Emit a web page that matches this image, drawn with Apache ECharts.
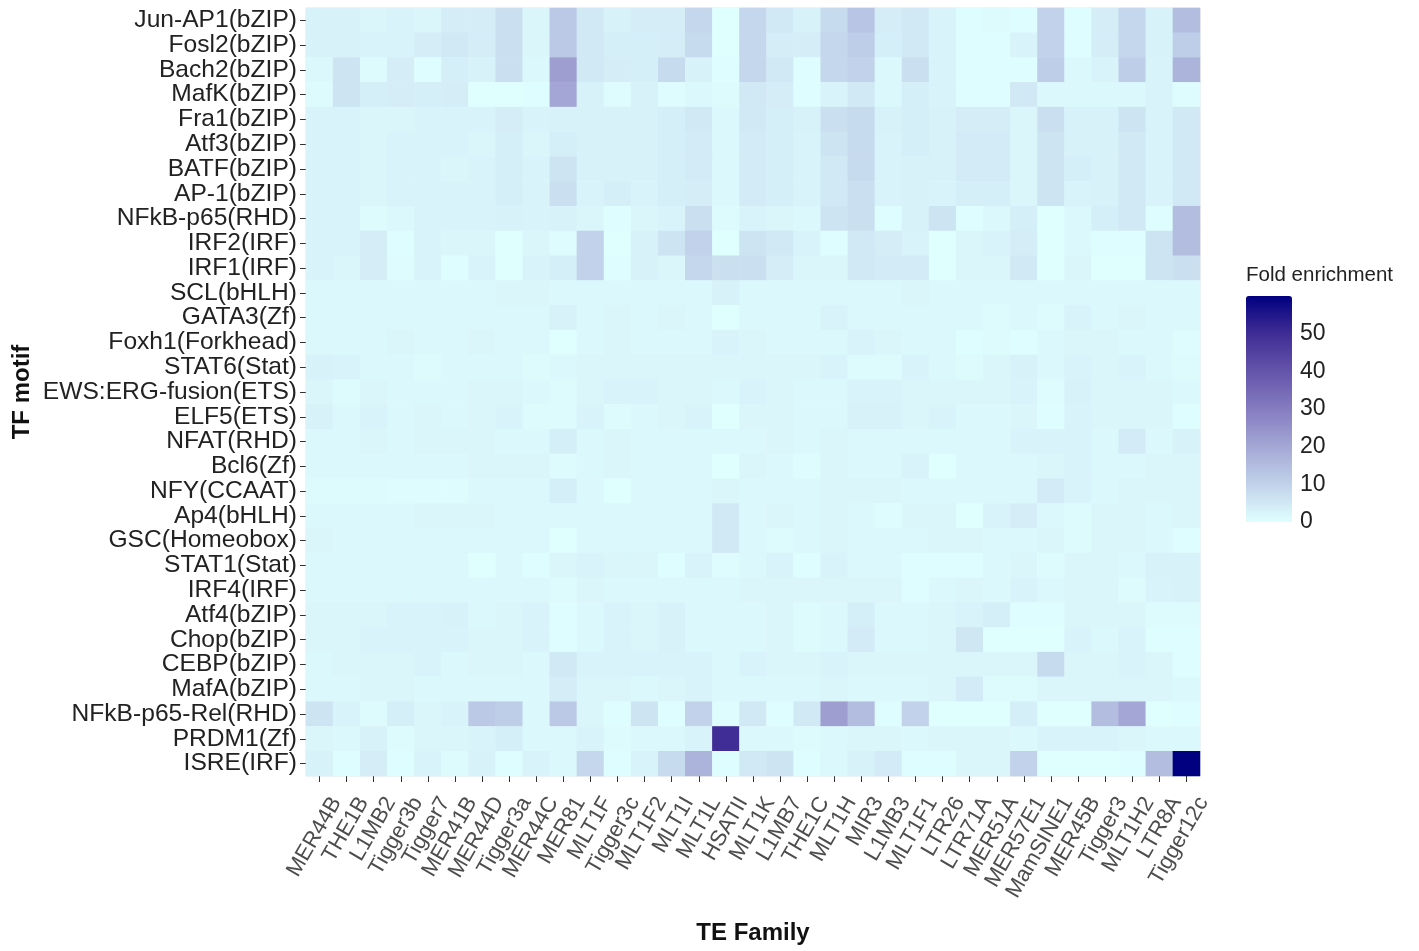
<!DOCTYPE html>
<html>
<head>
<meta charset="utf-8">
<script src="https://cdn.jsdelivr.net/npm/echarts/dist/echarts.min.js"></script>
<style>
  html, body { margin: 0; padding: 0; background: #fff; }
  #chart { width: 1419px; height: 951px; }
</style>
</head>
<body>
<div id="chart"></div>
<script>
// TE families (x) and TF motifs (y, top to bottom)
const teFamilies = ['MER44B', 'THE1B', 'L1MB2', 'Tigger3b', 'Tigger7', 'MER41B', 'MER44D', 'Tigger3a',
  'MER44C', 'MER81', 'MLT1F', 'Tigger3c', 'MLT1F2', 'MLT1I', 'MLT1L', 'HSATII', 'MLT1K', 'L1MB7',
  'THE1C', 'MLT1H', 'MIR3', 'L1MB3', 'MLT1F1', 'LTR26', 'LTR71A', 'MER51A', 'MER57E1', 'MamSINE1',
  'MER45B', 'Tigger3', 'MLT1H2', 'LTR8A', 'Tigger12c'];
const tfMotifs = ['Jun-AP1(bZIP)', 'Fosl2(bZIP)', 'Bach2(bZIP)', 'MafK(bZIP)', 'Fra1(bZIP)', 'Atf3(bZIP)',
  'BATF(bZIP)', 'AP-1(bZIP)', 'NFkB-p65(RHD)', 'IRF2(IRF)', 'IRF1(IRF)', 'SCL(bHLH)', 'GATA3(Zf)',
  'Foxh1(Forkhead)', 'STAT6(Stat)', 'EWS:ERG-fusion(ETS)', 'ELF5(ETS)', 'NFAT(RHD)', 'Bcl6(Zf)',
  'NFY(CCAAT)', 'Ap4(bHLH)', 'GSC(Homeobox)', 'STAT1(Stat)', 'IRF4(IRF)', 'Atf4(bZIP)', 'Chop(bZIP)',
  'CEBP(bZIP)', 'MafA(bZIP)', 'NFkB-p65-Rel(RHD)', 'PRDM1(Zf)', 'ISRE(IRF)'];

// fold enrichment, one array per motif, in teFamilies order
const junAP1 = [3,3,2,2.5,2,4,4,7,2,12,5,3,4,4,9,0.3,9, 5,3,8,13,4,5,2.5,0.5,1,0.5,10,0.5,4,9,3,15];
const fosl2 = [3,3,2.5,2.5,4,5,4,7,2,12,5,3.5,3.5,4,8,0.3,9, 4,4,9,11,3.5,5,2.5,0.5,0.5,2.5,10,0.5,4,9,3,11];
const bach2 = [1.5,6,1,4,0.5,3.5,3,7,1.5,22,5,4,3.5,8,3,0.5,9, 5,0.5,9,10,1.5,7,2.5,0.5,0.5,0.5,11,1.5,2.5,11,2.5,17];
const mafK = [1,6,3.5,4,3.5,4,0.3,0.3,0.5,20,3,0.8,3,0.8,1.5,1,5, 4,0.5,2.5,5,1.5,3.5,2.5,0.5,0.5,5,1.5,1.5,1.5,1.5,2.5,0.8];
const fra1 = [2.5,2.5,2,2,2.5,2.5,2.5,4,2.5,3,3,3,3,3.5,5,1.5,5, 3.5,3,7,8,3,3.5,3,4,4,2,7,3,3,6,2.5,5];
const atf3 = [2.5,2.5,2,2.5,2.5,2.5,2,3.5,2,3.5,3,3,3,3.5,4.5,1.5,4.5, 3.5,2.5,6,8,2.5,3.5,3,4.5,4.5,2,6,3,3,5,2.5,5];
const batf = [2.5,2.5,2,2.5,2.5,2,2.5,3.5,2.5,6,3,3,3,3.5,4.5,1.5,4.5, 3.5,2.5,5,8,2.5,3,3,4.5,4.5,2,6,3.5,3,5,2.5,5];
const ap1 = [2.5,2.5,2,2.5,2.5,2.5,2.5,3.5,2.5,7,2.5,3.5,2.5,3.5,4,1.5,4.5, 3.5,2.5,5,7,2.5,3,2.5,3.5,3.5,2,6,2.5,3,5,2.5,5];
const nfkbP65 = [2.5,2.5,1,1.5,2.5,2.5,2.5,3,2.5,3,2,0.5,2,2.5,7,1,2.5, 2,1.5,6,7,0.5,3,6,0.5,1.5,3.5,0.3,1.5,3.5,5,0.5,15];
const irf2 = [2.5,2.5,4,0.5,2.5,2,2,0.3,2,0.8,10,0.3,3,6,10,0.3,6, 5,2.5,0.5,5,4,2.5,0.3,2,2.5,4,0.3,1.5,0.5,0.5,6,15];
const irf1 = [2.5,2,4,0.8,2.5,0.5,2.5,0.3,2.5,3.5,10,0.5,3,2,9,7,7, 4,2,2,5,4.5,4.5,0.3,2,2,5,0.3,2,0.3,0.3,6,7];
const scl = [1.5,1.5,1.5,1.5,1.5,1.5,1.5,2,2,1.5,1.5,1.5,1.5,1.5,1.5,3,1.5, 1.5,1.5,1.5,1.5,1.5,2,1.5,1.5,1.5,1.5,1.5,1.5,1.5,1.5,1.5,1.5];
const gata3 = [1.5,1.5,1.5,1.5,1.5,1.5,1.5,1.5,1.5,3,1.5,2,1.5,2,1.5,0.3,1.5, 1.5,1.5,2.5,1.5,1.5,1.5,1.5,1.5,1,1.5,1,2.5,1.5,2,1.5,1.5];
const foxh1 = [1.5,1.5,1.5,2,1.5,1.5,2,1.5,1.5,0.3,1.5,2,1.5,1.5,1.5,2.5,2, 1.5,1.5,1.5,2.5,2,1.5,1.5,0.5,1,0.5,1.5,2,2,1.5,1.5,0.8];
const stat6 = [3,2.5,1.5,1.5,1,1.5,1.5,1.5,1,1.5,2,2,2,2,2,2,2, 2,2,2.5,1,1,2.5,1.5,1,2,3,1.5,2.5,2,2.5,1.5,1];
const ewsErg = [2,1,2,1.5,1.5,1.5,2,2,1.5,1,2,2.5,2.5,2,2,1.5,2.5, 2,1.5,1.5,2.5,2.5,2,2,2,2,2.5,0.8,3,2,2,2,1.5];
const elf5 = [3,1.5,2.5,1.5,2,1.5,2,2.5,1,1,2.5,1,1.5,2,2.5,0.3,2, 2,1.5,1.5,3,3,2,2.5,1.5,1.5,2,0.5,2.5,2,2,2,0.5];
const nfat = [1.5,1.5,2,1.5,2,2,2,1.5,1.5,3.5,1.5,2,1.5,1.5,1.5,1.5,1.5, 2,1.5,2,1.5,1.5,1.5,1.5,1.5,1.5,2.5,2.5,2.5,1.5,4.5,1.5,3];
const bcl6 = [1.5,1.5,1.5,1.5,1.5,1.5,2,2,2,1,1.5,2,1.5,1.5,1.5,0.3,2, 1.5,0.8,2,1.5,1.5,2.5,0.3,1.5,1.5,1.5,2,2.5,1.5,1.5,2,2];
const nfy = [1,1,1,0.8,0.8,0.8,1.5,1.5,1.5,3.5,1.5,0.3,1.5,1.5,1.5,2,1.5, 1.5,1.5,2,2,2,1.5,1.5,1.5,1.5,1.5,4.5,2.5,1.5,2,2,2];
const ap4 = [1.5,1.5,1.5,1.5,2,2,2,1.5,1.5,1.5,1.5,1.5,1.5,1.5,1.5,5,1.5, 2,1.5,2,1.5,0.8,2,2,0.3,2.5,4,1.5,1,2,2,1.5,2];
const gsc = [2,1.5,1.5,1.5,1.5,1.5,1.5,1.5,1.5,0.3,1.5,1.5,1.5,1.5,1.5,5,1.5, 1,1.5,2,1.5,1.5,1.5,2,2,1.5,1.5,2,1,2,2,1.5,0.5];
const stat1 = [1.5,1.5,1.5,1.5,1.5,1.5,0.3,1.5,0.5,2,2.5,2,2,0.5,2.5,0.8,1.5, 2.5,0.5,2.5,1.5,1.5,0.5,0.5,0.5,1.5,2,1,2,2,1.5,3,3];
const irf4 = [1.5,1.5,1.5,1.5,1.5,1.5,1.5,1.5,1.5,1,2,1.5,1.5,1.5,1.5,1.5,2, 2,2,2,2,2,0.5,1.5,2,1.5,2.5,1.5,2,2,1,2.5,3];
const atf4 = [2,2,2,2.5,2.5,3,1.5,2,2.5,0.5,1.5,2.5,2,3,1.5,1.5,1.5, 2,1,1.5,3.5,1.5,1.5,2,2.5,3.5,0.5,0.5,2,2,2,1,1];
const chop = [2,2,2.5,2.5,2.5,2.5,2,2,2.5,0.5,1.5,2.5,2,3,1.5,1.5,1.5, 2,1,1.5,4.5,1.5,1.5,2,5.5,0.3,0.3,0.3,2.5,1.5,2.5,0.5,0.5];
const cebp = [1.5,2,2,2,2.5,1.5,2,2,1.5,5,2.5,2.5,2.5,2.5,2.5,1.5,2.5, 2,2,2.5,2,2,2,2,2,2,2,8,2,2,2.5,2,0.5];
const mafA = [1.5,1.5,2,2,1.5,1.5,1.5,1.5,1.5,4,2,2,1.5,2,2.5,1.5,1.5, 1.5,1.5,2,1.5,1.5,1.5,2,4.5,1,1,2,2,2,2,2,1.5];
const nfkbP65Rel = [6,2.5,1,3.5,2,2.5,12,11,1.5,12,2,0.5,6,0.5,10,0.8,5, 0.5,5,22,15,0.5,10,0.3,0.3,0.3,3.5,0.3,0.3,15,20,0.3,0.5];
const prdm1 = [2,1.5,3,1,2,2,2.5,3.5,1.5,1.5,2.5,1,1.5,1.5,2.5,50,1.5, 1.5,1,1.5,2,2,1.5,2,2,2,1.5,2.5,2.5,2.5,2,1.5,1.5];
const isre = [3,0.5,4,0.5,2.5,1,3,0.5,2.5,1.5,9,0.5,2.5,8,17,0.5,5, 6,0.5,1.5,3,4.5,0.5,0.5,2,2,10,0.3,0.3,0.3,0.5,15,60];

const enrichmentRows = [junAP1, fosl2, bach2, mafK, fra1, atf3, batf, ap1, nfkbP65, irf2, irf1, scl,
  gata3, foxh1, stat6, ewsErg, elf5, nfat, bcl6, nfy, ap4, gsc, stat1, irf4, atf4, chop, cebp, mafA,
  nfkbP65Rel, prdm1, isre];

const foldMax = 60;

const cells = [];
enrichmentRows.forEach(function (row, r) {
  row.forEach(function (v, c) { cells.push([c, r, v]); });
});

const chart = echarts.init(document.getElementById('chart'));
const font = 'Liberation Sans, Arial, sans-serif';

const option = {
  animation: false,
  backgroundColor: '#ffffff',
  textStyle: { fontFamily: font },
  title: {
    text: 'Fold enrichment',
    left: 1246, top: 265, padding: 0,
    textStyle: { fontSize: 20.5, fontWeight: 'normal', color: '#222', fontFamily: font }
  },
  grid: [
    { left: 306, top: 8, width: 894, height: 768, show: true, borderColor: '#e6e6e6', borderWidth: 1, backgroundColor: '#fff' },
    // legend scale
    { left: 1246, top: 296, width: 46, height: 226 }
  ],
  xAxis: [
    {
      type: 'category', gridIndex: 0, data: teFamilies,
      name: 'TE Family', nameLocation: 'middle', nameGap: 145,
      nameTextStyle: { fontSize: 24, fontWeight: 'bold', color: '#111', fontFamily: font },
      axisLine: { show: false },
      axisTick: { show: true, alignWithLabel: true, length: 6, lineStyle: { color: '#333' } },
      axisLabel: {
        rotate: 60, fontSize: 22, color: '#4d4d4d', margin: 13, interval: 0, fontFamily: font,
        verticalAlign: 'top', lineHeight: 39
      },
      splitLine: { show: false }
    },
    { type: 'category', gridIndex: 1, data: [''], show: false }
  ],
  yAxis: [
    {
      type: 'category', gridIndex: 0, data: tfMotifs, inverse: true,
      name: 'TF motif', nameLocation: 'middle', nameGap: 272, nameRotate: 90,
      nameMoveOverlap: false,
      nameTextStyle: { fontSize: 24, fontWeight: 'bold', color: '#111', fontFamily: font },
      axisLine: { show: false },
      axisTick: { show: true, alignWithLabel: true, length: 6, lineStyle: { color: '#333' } },
      axisLabel: { fontSize: 24.6, color: '#222', margin: 9, interval: 0, fontFamily: font },
      splitLine: { show: false }
    },
    {
      type: 'value', gridIndex: 1, min: 0, max: foldMax, interval: 10, position: 'right',
      axisLine: { show: false },
      axisTick: { show: true, inside: true, length: 9, lineStyle: { color: '#fff', width: 1.5 } },
      axisLabel: { fontSize: 23, color: '#222', margin: 8, showMaxLabel: false, fontFamily: font },
      splitLine: { show: false }
    },
    {
      type: 'value', gridIndex: 1, min: 0, max: foldMax, interval: 10, position: 'left',
      axisLine: { show: false },
      axisTick: { show: true, inside: true, length: 9, lineStyle: { color: '#fff', width: 1.5 } },
      axisLabel: { show: false },
      splitLine: { show: false }
    }
  ],
  visualMap: {
    type: 'continuous', min: 0, max: foldMax, seriesIndex: 0,
    calculable: false, orient: 'vertical',
    left: 1246, top: 296, itemWidth: 46, itemHeight: 226, padding: 0,
    text: null,
    inRange: { color: ['#E0FFFF', '#C1D2EA', '#A4A7D5', '#857CC0', '#6554AB', '#402D95', '#000080'] }
  },
  series: [{
    type: 'heatmap',
    xAxisIndex: 0, yAxisIndex: 0,
    data: cells,
    itemStyle: { borderWidth: 0 },
    emphasis: { disabled: true }
  }]
};

chart.setOption(option);
</script>
</body>
</html>
